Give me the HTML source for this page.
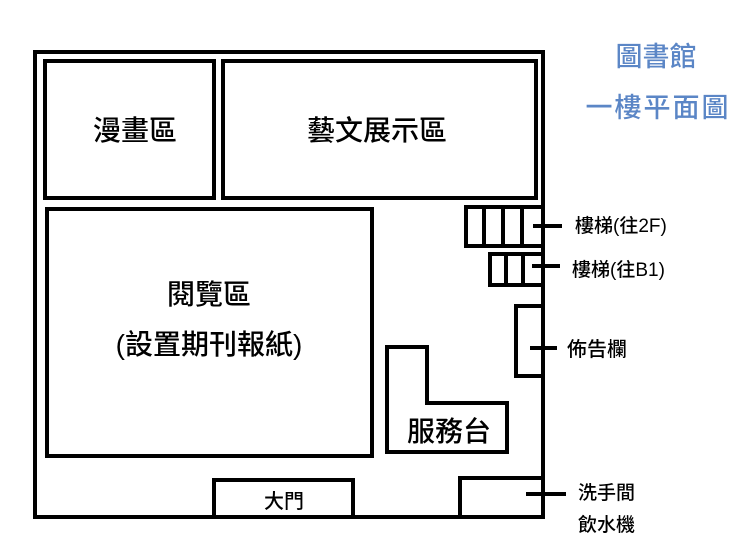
<!DOCTYPE html>
<html><head><meta charset="utf-8"><style>
html,body{margin:0;padding:0;background:#fff;width:754px;height:555px;overflow:hidden}
text{font-family:"Liberation Sans","Noto Sans CJK TC",sans-serif;fill:#000;font-weight:500}
</style></head><body>
<svg width="754" height="555" viewBox="0 0 754 555" xmlns="http://www.w3.org/2000/svg">
<g fill="none" stroke="#000" stroke-width="4">
<rect x="35" y="52" width="508" height="465"/>
<rect x="45" y="61" width="169" height="137"/>
<rect x="223" y="61" width="313" height="137"/>
<rect x="47" y="209" width="325" height="247"/>
<polygon points="387,347 427,347 427,403 507,403 507,452 387,452"/>
<rect x="214" y="480" width="139" height="37"/>
<rect x="460" y="478" width="83" height="39"/>
<rect x="516" y="306" width="27" height="70"/>
<rect x="466" y="207" width="77" height="39"/>
<line x1="484" y1="207" x2="484" y2="246"/>
<line x1="503" y1="207" x2="503" y2="246"/>
<line x1="522" y1="207" x2="522" y2="246"/>
<rect x="490" y="254" width="53" height="31"/>
<line x1="506" y1="254" x2="506" y2="285"/>
<line x1="523" y1="254" x2="523" y2="285"/>
<line x1="533" y1="226" x2="562" y2="226"/>
<line x1="532" y1="266" x2="560" y2="266"/>
<line x1="530" y1="348" x2="557" y2="348"/>
<line x1="526" y1="494" x2="566" y2="494"/>
</g>
<text x="135" y="140" font-size="28" text-anchor="middle">漫畫區</text>
<text x="377" y="140" font-size="28" text-anchor="middle">藝文展示區</text>
<text x="209" y="304" font-size="28" text-anchor="middle">閱覽區</text>
<text x="209" y="354" font-size="28" text-anchor="middle">(設置期刊報紙)</text>
<text x="449" y="441" font-size="28" text-anchor="middle">服務台</text>
<text x="284" y="508" font-size="20" text-anchor="middle">大門</text>
<text x="575" y="232" font-size="19">樓梯(往2F)</text>
<text x="572" y="276" font-size="19">樓梯(往B1)</text>
<text x="567" y="356" font-size="20">佈告欄</text>
<text x="578" y="499" font-size="19">洗手間</text>
<text x="578" y="531" font-size="19">飲水機</text>
<text x="656" y="66" font-size="27" text-anchor="middle" style="fill:#5b86c6">圖書館</text>
<text x="658" y="117" font-size="27" text-anchor="middle" letter-spacing="2" style="fill:#5b86c6">一樓平面圖</text>
</svg>
</body></html>
